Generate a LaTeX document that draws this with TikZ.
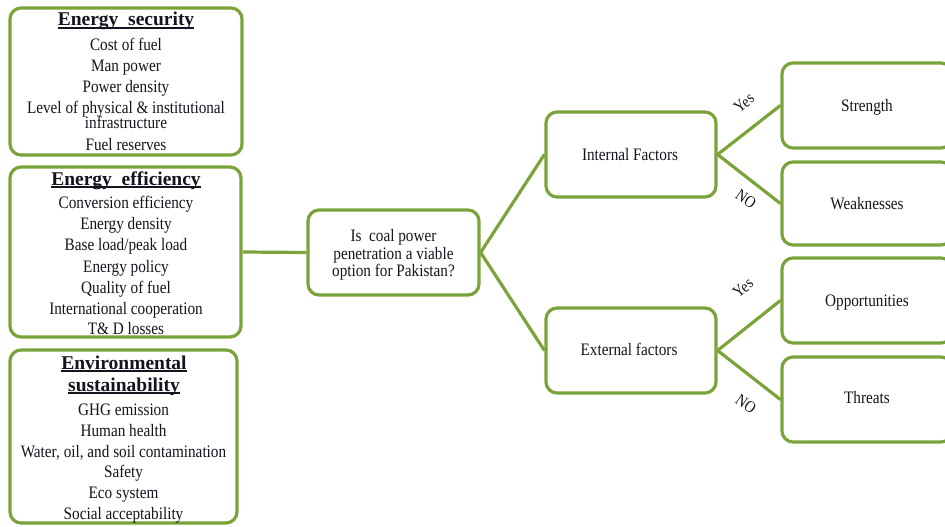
\documentclass[tikz,border=0pt]{standalone}
\usepackage{fontspec}
\setmainfont{Liberation Serif}
\newfontfamily\condfont[FakeStretch=0.87]{Liberation Serif}
\definecolor{boxgreen}{RGB}{122,164,58}
\definecolor{inkc}{RGB}{20,20,30}
\newcommand\ulhead[1]{\setbox0\hbox{#1}\leavevmode\rlap{\rule[-2.6pt]{\wd0}{1.3pt}}\box0}
\begin{document}
\begin{tikzpicture}[x=1pt,y=-1pt,
  box/.style={draw=boxgreen, line width=3.2pt, rounded corners=11pt, fill=white, inner sep=0pt},
  conn/.style={draw=boxgreen, line width=3.2pt},
  item/.style={font=\condfont\fontsize{17.5}{20}\selectfont, text=inkc, inner sep=0pt, text height=11.5pt, text depth=3.5pt, yshift=-2.5pt},
  head/.style={font=\bfseries\fontsize{19.5}{22}\selectfont, text=inkc, inner sep=0pt, text height=13pt, text depth=4pt, yshift=-2.5pt},
  yn/.style={font=\condfont\fontsize{16.5}{18}\selectfont, text=inkc, inner sep=0pt}]
\useasboundingbox (0,0) rectangle (945,527);
\clip (0,0) rectangle (945,527);
% left boxes
\node[box, minimum width=232pt, minimum height=147pt] (sec) at (126,81.5) {};
\node[box, minimum width=231pt, minimum height=170pt] (eff) at (125.5,252) {};
\node[box, minimum width=227pt, minimum height=173pt] (env) at (123.5,436.5) {};
\node[head] (sech) at (126,19) {\ulhead{Energy\ \ security}};
\foreach \t/\y [count=\i] in {Cost of fuel/44, Man power/65, Power density/86,
  Level of physical \& institutional/107, infrastructure/122, Fuel reserves/144}
  \node[item] (seci\i) at (126,\y) {\t};
\node[head] (effh) at (126,178) {\ulhead{Energy\ \ efficiency}};
\foreach \t/\y [count=\i] in {Conversion efficiency/202, Energy density/223, {Base load/peak load}/244,
  Energy policy/266, Quality of fuel/287, International cooperation/308, T\& D losses/328}
  \node[item] (effi\i) at (126,\y) {\t};
\node[head] (envh1) at (124,362) {\ulhead{Environmental}};
\node[head] (envh2) at (124,384) {\ulhead{sustainability}};
\foreach \t/\y [count=\i] in {GHG emission/409, Human health/430, {Water, oil, and soil contamination}/451,
  Safety/471, Eco system/492, Social acceptability/513}
  \node[item] (envi\i) at (123.5,\y) {\t};
% centre
\node[box, minimum width=171pt, minimum height=85pt] (q) at (393.5,252.5) {};
\node[item] (q1) at (393.5,235) {Is\ \ coal power};
\node[item] (q2) at (393.5,253) {penetration a viable};
\node[item] (q3) at (393.5,270) {option for Pakistan?};
% factors
\node[box, minimum width=170pt, minimum height=85pt] (int) at (631,154.5) {};
\node[item] (intt) at (630,154) {Internal Factors};
\node[box, minimum width=170pt, minimum height=85pt] (ext) at (631,350.5) {};
\node[item] (extt) at (629,349) {External factors};
% SWOT
\node[box, minimum width=170pt, minimum height=85pt] (str) at (867,105.5) {};
\node[item] at (867,105) (strt) {Strength};
\node[box, minimum width=170pt, minimum height=83pt] (wea) at (867,203.5) {};
\node[item] at (867,203) (weat) {Weaknesses};
\node[box, minimum width=170pt, minimum height=85pt] (opp) at (867,300.5) {};
\node[item] at (867,300) (oppt) {Opportunities};
\node[box, minimum width=170pt, minimum height=85pt] (thr) at (867,399.5) {};
\node[item] at (867,397) (thrt) {Threats};
% connectors
\draw[conn] (eff.east) -- (q.west);
\draw[conn] (q.east) -- (int.west);
\draw[conn] (q.east) -- (ext.west);
\draw[conn] (int.east) -- (str.west);
\draw[conn] (int.east) -- (wea.west);
\draw[conn] (ext.east) -- (opp.west);
\draw[conn] (ext.east) -- (thr.west);
% labels
\node[yn, rotate=40] (y1) at (744,103) {Yes};
\node[yn, rotate=-35] (n1) at (746,199) {NO};
\node[yn, rotate=40] (y2) at (743,288) {Yes};
\node[yn, rotate=-35] (n2) at (746,404) {NO};
\end{tikzpicture}
\end{document}
